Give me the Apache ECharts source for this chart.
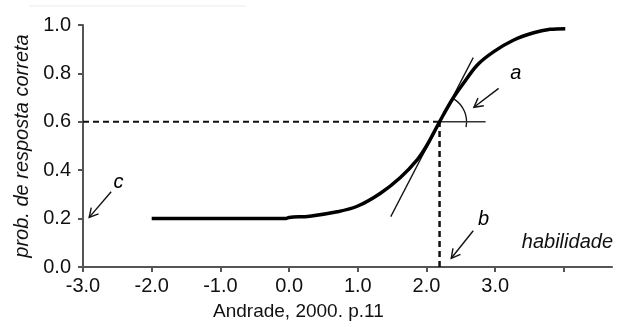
<!DOCTYPE html>
<html>
<head>
<meta charset="utf-8">
<script src="https://cdn.jsdelivr.net/npm/echarts@6/dist/echarts.min.js"></script>
<style>
  html, body { margin: 0; padding: 0; background: #fff; }
  #chart { width: 623px; height: 327px; }
</style>
</head>
<body>
<div id="chart"></div>
<script>
// Curva característica do item, lida ponto a ponto do gráfico
const theta = [-2.0, -1.0, -0.05, 0.0, 0.3, 0.7, 1.0, 1.33, 1.62, 1.87, 2.0, 2.19, 2.37, 2.54, 2.74, 2.98, 3.27, 3.56, 3.8, 4.02];
const prob = [0.2, 0.2, 0.2, 0.205, 0.21, 0.228, 0.252, 0.305, 0.37, 0.445, 0.5, 0.6, 0.69, 0.76, 0.835, 0.89, 0.938, 0.968, 0.982, 0.985];

// parâmetro b e probabilidade nele
const bTheta = 2.19;
const bProb = 0.6;

// reta tangente (inclinação a) e segmento horizontal
const tangentX = [1.48, 2.68];
const tangentY = [0.208, 0.865];
const horizX = [2.19, 2.86];

// eixos
const xTicks = [-3, -2, -1, 0, 1, 2, 3, 4];
const xLabels = [-3, -2, -1, 0, 1, 2, 3];

// setas: [x1, y1, x2, y2] (ponta em x2, y2)
const arrows = [
  [3.05, 0.738, 2.69, 0.66],   // a
  [2.68, 0.15, 2.36, 0.036],   // b
  [-2.59, 0.311, -2.91, 0.205] // c
];
// rótulos das setas
const noteNames = ['a', 'b', 'c'];
const noteX = [3.30, 2.83, -2.485];
const noteY = [0.80, 0.197, 0.348];

const FONT = 'Liberation Sans, Arial, sans-serif';

const chart = echarts.init(document.getElementById('chart'));

const option = {
  animation: false,
  grid: { left: 83, right: 11, top: 25, bottom: 60, containLabel: false, outerBoundsMode: 'none' },
  xAxis: {
    type: 'value',
    min: -3,
    max: 4.7,
    interval: 1,
    axisLine: { onZero: false, lineStyle: { color: '#555', width: 2 } },
    axisTick: { show: true, length: 5, customValues: xTicks, lineStyle: { color: '#555', width: 2 } },
    axisLabel: {
      customValues: xLabels,
      margin: 9,
      color: '#111',
      fontSize: 20,
      fontFamily: FONT,
      formatter: v => v.toFixed(1)
    },
    splitLine: { show: false }
  },
  yAxis: {
    type: 'value',
    min: 0,
    max: 1,
    interval: 0.2,
    name: 'prob. de resposta correta',
    nameLocation: 'middle',
    nameGap: 50,
    nameTextStyle: { fontStyle: 'italic', fontSize: 20, color: '#111', fontFamily: FONT },
    axisLine: { show: true, onZero: false, lineStyle: { color: '#555', width: 2 } },
    axisTick: { show: true, length: 5, lineStyle: { color: '#555', width: 2 } },
    axisLabel: {
      margin: 12,
      color: '#111',
      fontSize: 20,
      fontFamily: FONT,
      formatter: v => v.toFixed(1)
    },
    splitLine: { show: false }
  },
  graphic: [
    {
      type: 'line',
      shape: { x1: 29, y1: 6, x2: 246, y2: 6 },
      style: { stroke: '#ececec', lineWidth: 1 }
    },
    {
      type: 'text',
      right: 10,
      top: 232,
      style: { text: 'habilidade', font: 'italic 20px ' + FONT, fill: '#111' }
    },
    {
      type: 'text',
      left: 213,
      top: 302,
      style: { text: 'Andrade, 2000. p.11', font: '19px ' + FONT, fill: '#111' }
    }
  ],
  series: [
    {
      name: 'guia horizontal',
      type: 'line',
      data: [[-3, bProb], [bTheta, bProb]],
      symbol: 'none',
      silent: true,
      lineStyle: { color: '#111', width: 2, type: [6, 4] }
    },
    {
      name: 'guia vertical',
      type: 'line',
      data: [[bTheta, 0], [bTheta, bProb]],
      symbol: 'none',
      silent: true,
      lineStyle: { color: '#111', width: 2.5, type: [6, 4] }
    },
    {
      name: 'horizontal',
      type: 'line',
      data: horizX.map(x => [x, bProb]),
      symbol: 'none',
      silent: true,
      lineStyle: { color: '#333', width: 1.5 }
    },
    {
      name: 'tangente',
      type: 'line',
      data: tangentX.map((x, i) => [x, tangentY[i]]),
      symbol: 'none',
      silent: true,
      lineStyle: { color: '#111', width: 1.3 }
    },
    {
      name: 'CCI',
      type: 'line',
      data: theta.map((t, i) => [t, prob[i]]),
      symbol: 'none',
      smooth: 0.35,
      silent: true,
      lineStyle: { color: '#000', width: 3.5 }
    },
    {
      name: 'ângulo',
      type: 'custom',
      silent: true,
      data: [[bTheta, bProb]],
      renderItem: (params, api) => {
        const c = api.coord([api.value(0), api.value(1)]);
        return {
          type: 'arc',
          shape: { cx: c[0], cy: c[1], r: 27, startAngle: -1.0, endAngle: 0.2, clockwise: true },
          style: { stroke: '#111', lineWidth: 1.3, fill: null }
        };
      }
    },
    {
      name: 'setas',
      type: 'custom',
      silent: true,
      data: arrows,
      renderItem: (params, api) => {
        const p1 = api.coord([api.value(0), api.value(1)]);
        const p2 = api.coord([api.value(2), api.value(3)]);
        const ang = Math.atan2(p2[1] - p1[1], p2[0] - p1[0]);
        const len = 10, spread = 0.5;
        const h1 = [p2[0] - len * Math.cos(ang - spread), p2[1] - len * Math.sin(ang - spread)];
        const h2 = [p2[0] - len * Math.cos(ang + spread), p2[1] - len * Math.sin(ang + spread)];
        const st = { stroke: '#111', lineWidth: 1.4, fill: null };
        return {
          type: 'group',
          children: [
            { type: 'line', shape: { x1: p1[0], y1: p1[1], x2: p2[0], y2: p2[1] }, style: st },
            { type: 'polyline', shape: { points: [h1, p2, h2] }, style: st }
          ]
        };
      }
    },
    {
      name: 'rótulos',
      type: 'scatter',
      silent: true,
      symbolSize: 0,
      itemStyle: { opacity: 1 },
      data: noteNames.map((n, i) => [noteX[i], noteY[i], n]),
      label: {
        show: true,
        position: 'inside',
        formatter: p => p.value[2],
        fontStyle: 'italic',
        fontSize: 20,
        fontFamily: FONT,
        color: '#000',
        opacity: 1,
        textBorderWidth: 0
      }
    }
  ]
};

chart.setOption(option);
</script>
</body>
</html>
